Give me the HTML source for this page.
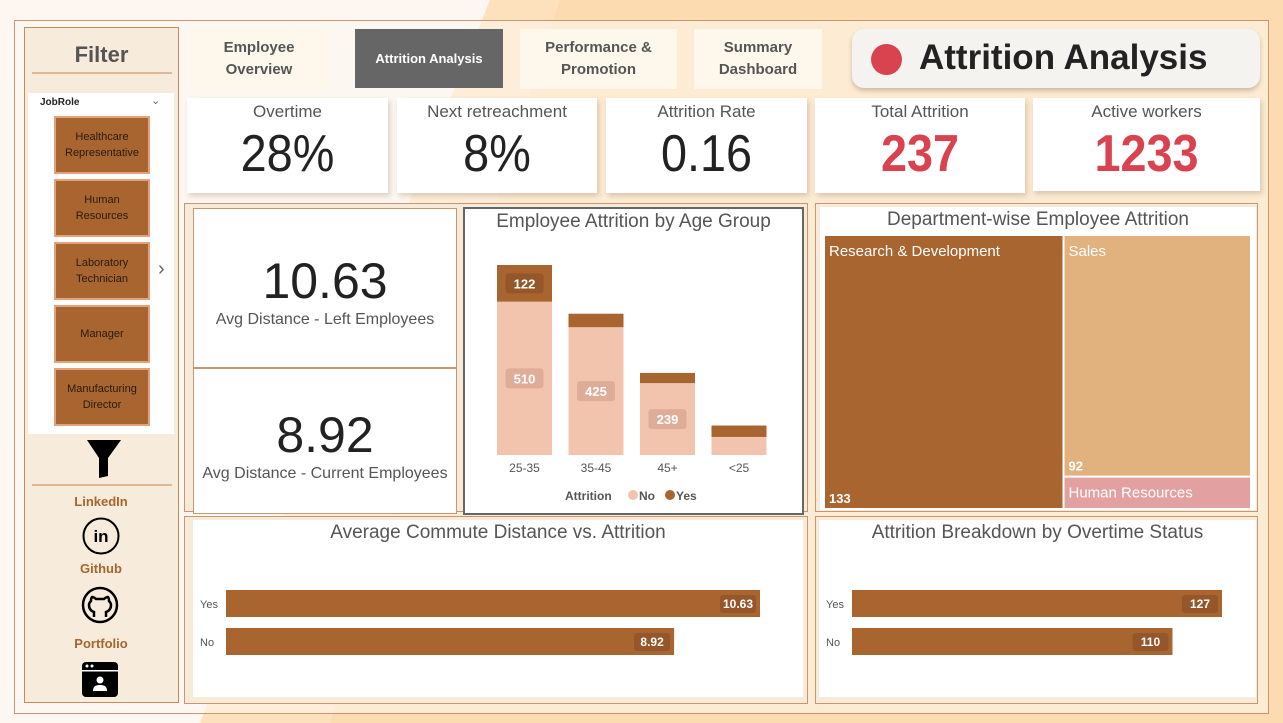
<!DOCTYPE html>
<html><head><meta charset="utf-8">
<style>
*{box-sizing:border-box;margin:0;padding:0}
body{width:1283px;height:723px;overflow:hidden;position:relative;font-family:"Liberation Sans","DejaVu Sans",sans-serif;background:#fdf6f1}
.abs{position:absolute}
.card{position:absolute;background:#fff;box-shadow:2px 3px 5px rgba(120,90,60,.25);text-align:center}
.kt{font-size:17px;color:#555;margin-top:4px}
.kv{font-size:52px;color:#222;line-height:60px;margin-top:2px;transform:scaleX(.9)}
.red{color:#d9434f;font-weight:bold}
.nav{position:absolute;background:#fef7ec;color:#555;font-weight:bold;font-size:15px;text-align:center;display:flex;align-items:center;justify-content:center;line-height:22px}
.jb{position:absolute;left:54px;width:96px;height:58px;background:#a8652f;border:2px solid #e3a27c;color:#2a1a10;font-size:11px;display:flex;align-items:center;justify-content:center;text-align:center;line-height:16px}
.ttl{position:absolute;width:100%;text-align:center;font-size:19px;color:#555}
.lk{position:absolute;width:154px;left:24px;text-align:center;font-weight:bold;font-size:13px;color:#a8652f}
</style></head><body>
<svg class="abs" style="left:0;top:0" width="1283" height="723">
<polygon points="490,0 1283,0 1283,723 200,723" fill="#fde0bc"/>
<polygon points="560,0 1283,0 1283,723 330,723" fill="#fdd7a8" opacity=".6"/>
</svg>
<div class="abs" style="left:14px;top:20px;width:1255px;height:694px;border:1px solid #c89670;background:rgba(254,248,240,.55)"></div>

<!-- filter panel -->
<div class="abs" style="left:24px;top:27px;width:155px;height:676px;background:#f7ecdc;border:1px solid #c88a5a"></div>
<div class="abs" style="left:24px;top:42px;width:155px;text-align:center;font-size:22px;font-weight:bold;color:#555">Filter</div>
<div class="abs" style="left:32px;top:72px;width:140px;height:2px;background:#e0b896"></div>
<div class="abs" style="left:28px;top:93px;width:146px;height:341px;background:#fff"></div>
<div class="abs" style="left:40px;top:97px;font-size:10px;font-weight:bold;color:#222">JobRole</div>
<div class="abs" style="left:151px;top:94px;font-size:11px;color:#666">&#8964;</div>
<div class="jb" style="top:116px">Healthcare<br>Representative</div>
<div class="jb" style="top:179px">Human<br>Resources</div>
<div class="jb" style="top:242px">Laboratory<br>Technician</div>
<div class="jb" style="top:305px">Manager</div>
<div class="jb" style="top:368px">Manufacturing<br>Director</div>
<div class="abs" style="left:158px;top:258px;font-size:20px;color:#666">&#8250;</div>
<svg class="abs" style="left:86px;top:438px" width="36" height="42"><polygon points="1,2 35,2 22,20 22,38 13,40 13,20" fill="#000"/></svg>
<div class="abs" style="left:32px;top:484px;width:140px;height:2px;background:#e0b896"></div>
<div class="lk" style="top:494px">LinkedIn</div>
<svg class="abs" style="left:82px;top:517px" width="38" height="38"><circle cx="19" cy="19" r="17.5" fill="none" stroke="#000" stroke-width="2"/><text x="19" y="25" text-anchor="middle" font-size="17" font-weight="bold" font-family="Liberation Sans">in</text></svg>
<div class="lk" style="top:561px">Github</div>
<svg class="abs" style="left:81px;top:586px" width="38" height="38"><circle cx="19" cy="19" r="17" fill="none" stroke="#000" stroke-width="2.5"/><path d="M13 31v-5c-3-1-5-3-5-7 0-2 1-3 2-4 0-1 0-3 1-4 2 0 3 1 4 2h8c1-1 2-2 4-2 1 1 1 3 1 4 1 1 2 2 2 4 0 4-2 6-5 7v5" fill="none" stroke="#000" stroke-width="2.5"/></svg>
<div class="lk" style="top:636px">Portfolio</div>
<svg class="abs" style="left:82px;top:662px" width="36" height="36"><rect x="0" y="0" width="36" height="35" rx="4" fill="#000"/><rect x="0" y="8" width="36" height="1.5" fill="#fff"/><circle cx="5" cy="4" r="1.5" fill="#fff"/><circle cx="10" cy="4" r="1.5" fill="#fff"/><circle cx="18" cy="18" r="3.5" fill="#fff"/><path d="M11 29c0-5 3-6 7-6s7 1 7 6z" fill="#fff"/></svg>

<!-- nav -->
<div class="nav" style="left:190px;top:29px;width:138px;height:60px">Employee<br>Overview</div>
<div class="nav" style="left:355px;top:29px;width:148px;height:59px;background:#676666;color:#fff;font-size:13px">Attrition Analysis</div>
<div class="nav" style="left:520px;top:29px;width:157px;height:60px">Performance &amp;<br>Promotion</div>
<div class="nav" style="left:694px;top:29px;width:128px;height:60px">Summary<br>Dashboard</div>
<div class="abs" style="left:852px;top:29px;width:408px;height:59px;background:#f5f3ef;border-radius:12px;box-shadow:0 3px 5px rgba(100,80,60,.3)">
<div class="abs" style="left:19px;top:15px;width:31px;height:31px;border-radius:50%;background:#d9434f"></div>
<div class="abs" style="left:67px;top:9px;font-size:35px;font-weight:bold;color:#222">Attrition Analysis</div></div>

<!-- KPIs -->
<div class="card" style="left:187px;top:98px;width:201px;height:95px"><div class="kt">Overtime</div><div class="kv">28%</div></div>
<div class="card" style="left:397px;top:98px;width:200px;height:95px"><div class="kt">Next retreachment</div><div class="kv">8%</div></div>
<div class="card" style="left:606px;top:98px;width:201px;height:95px"><div class="kt">Attrition Rate</div><div class="kv">0.16</div></div>
<div class="card" style="left:815px;top:98px;width:210px;height:95px"><div class="kt">Total Attrition</div><div class="kv red">237</div></div>
<div class="card" style="left:1033px;top:98px;width:227px;height:93px"><div class="kt">Active workers</div><div class="kv red">1233</div></div>

<!-- middle panels -->
<div class="abs" style="left:184px;top:203px;width:624px;height:309px;background:#f7ead8;border:1px solid #c89670"></div>
<div class="abs" style="left:193px;top:208px;width:264px;height:160px;background:#fff;border:1px solid #c89670;text-align:center"><div style="font-size:50px;color:#222;margin-top:44px;line-height:56px">10.63</div><div style="font-size:16px;color:#555;margin-top:2px">Avg Distance - Left Employees</div></div>
<div class="abs" style="left:193px;top:368px;width:264px;height:146px;background:#fff;border:1px solid #c89670;text-align:center"><div style="font-size:50px;color:#222;margin-top:38px;line-height:56px">8.92</div><div style="font-size:16px;color:#555;margin-top:2px">Avg Distance - Current Employees</div></div>
<div class="abs" style="left:463px;top:207px;width:341px;height:308px;background:#fff;border:2px solid #666">
<div class="ttl" style="top:2px">Employee Attrition by Age Group</div></div>
<svg id="ageSvg" class="abs" style="left:0;top:0" width="1283" height="723"></svg>

<div class="abs" style="left:815px;top:203px;width:443px;height:309px;background:#f7ead8;border:1px solid #c89670"></div>
<div class="abs" style="left:820px;top:207px;width:436px;height:303px;background:#fff"><div class="ttl" style="top:2px">Department-wise Employee Attrition</div></div>
<svg id="tmSvg" class="abs" style="left:0;top:0" width="1283" height="723"></svg>

<!-- bottom -->
<div class="abs" style="left:184px;top:516px;width:624px;height:188px;background:#f7ead8;border:1px solid #c89670"></div>
<div class="abs" style="left:193px;top:520px;width:610px;height:177px;background:#fff"><div class="ttl" style="top:2px">Average Commute Distance vs. Attrition</div></div>
<div class="abs" style="left:815px;top:516px;width:443px;height:188px;background:#f7ead8;border:1px solid #c89670"></div>
<div class="abs" style="left:819px;top:520px;width:437px;height:177px;background:#fff"><div class="ttl" style="top:2px">Attrition Breakdown by Overtime Status</div></div>
<svg id="barSvg" class="abs" style="left:0;top:0" width="1283" height="723"></svg>

<script>
const ageCats=["25-35","35-45","45+","<25"];
const ageNo=[510,425,239,60];
const ageYes=[122,45,34,38];
const ageNoLabels=["510","425","239",""];
const ageYesLabels=["122","","",""];
const deptNames=["Research & Development","Sales","Human Resources"];
const deptValues=[133,92,12];
const deptLabels=["133","92",""];
const commuteCats=["Yes","No"];
const commuteVals=[10.63,8.92];
const overtimeCats=["Yes","No"];
const overtimeVals=[127,110];

const NS="http://www.w3.org/2000/svg";
function mk(svg,tag,attrs,text){const e=document.createElementNS(NS,tag);for(const k in attrs)e.setAttribute(k,attrs[k]);if(text!==undefined)e.textContent=text;svg.appendChild(e);return e;}
const FF="Liberation Sans, DejaVu Sans, sans-serif";

// age chart
const ag=document.getElementById('ageSvg');
const base=455, sc=190/632, x0=497, step=71.5, bw=55;
const yA=v=>base-v*sc, xA=i=>x0+i*step;
ageCats.forEach((c,i)=>{
 const no=ageNo[i],ye=ageYes[i];
 let r=mk(ag,'rect',{x:xA(i),y:yA(no),width:bw,height:no*sc,fill:'#f3c4ad'});
 
 
 r=mk(ag,'rect',{x:xA(i),y:yA(no+ye),width:bw,height:ye*sc,fill:'#a8652f'});
 
 
 let t=mk(ag,'text',{x:xA(i)+bw/2,y:472,'text-anchor':'middle','font-size':12,fill:'#555','font-family':FF},c);
 
 
 if(ageNoLabels[i]){const cy=yA(no/2);
  mk(ag,'rect',{x:xA(i)+bw/2-19,y:cy-10,width:38,height:20,rx:3,fill:'#dfac98'});
  t=mk(ag,'text',{x:xA(i)+bw/2,y:cy+5,'text-anchor':'middle','font-size':13,'font-weight':'bold',fill:'#fff','font-family':FF},ageNoLabels[i]);
  
  }
 if(ageYesLabels[i]){const cy=yA(no+ye/2);
  mk(ag,'rect',{x:xA(i)+bw/2-19,y:cy-10,width:38,height:20,rx:3,fill:'#955629'});
  t=mk(ag,'text',{x:xA(i)+bw/2,y:cy+5,'text-anchor':'middle','font-size':13,'font-weight':'bold',fill:'#fff','font-family':FF},ageYesLabels[i]);
  
  }
});
let lg=mk(ag,'text',{x:565,y:500,'font-size':12,'font-weight':'bold',fill:'#555','font-family':FF},'Attrition');


mk(ag,'circle',{cx:633,cy:495,r:5,fill:'#f3c4ad'});
lg=mk(ag,'text',{x:639,y:500,'font-size':12,'font-weight':'bold',fill:'#555','font-family':FF},'No');


mk(ag,'circle',{cx:670,cy:495,r:5,fill:'#a8652f'});
lg=mk(ag,'text',{x:676,y:500,'font-size':12,'font-weight':'bold',fill:'#555','font-family':FF},'Yes');



// treemap
const tm=document.getElementById('tmSvg');
const TX=825,TY=236,TW=425,TH=272;
const tot=deptValues.reduce((a,b)=>a+b,0);
const w0=TW*deptValues[0]/tot;
const restTot=deptValues[1]+deptValues[2];
const h1=TH*deptValues[1]/restTot;
const cols=['#a8652f','#e2b27e','#e3a0a0'];
const rects=[[TX,TY,w0-1,TH],[TX+w0+1,TY,TW-w0-1,h1-1],[TX+w0+1,TY+h1+1,TW-w0-1,TH-h1-1]];
deptNames.forEach((n,i)=>{const [x,y,w,h]=rects[i];
 let r=mk(tm,'rect',{x:x,y:y,width:w,height:h,fill:cols[i]});
 
 
 let t=mk(tm,'text',{x:x+4,y:y+20,'font-size':15,fill:'#fff','font-family':FF},n);
 
 
 if(deptLabels[i]){t=mk(tm,'text',{x:x+4,y:y+h-5,'font-size':13,'font-weight':'bold',fill:'#fff','font-family':FF},deptLabels[i]);
 
 }
});

// horizontal bars
const bs=document.getElementById('barSvg');
function hbar(cats,vals,x0,pxPer,ys,labx,fmt,pref){
 cats.forEach((c,i)=>{const w=vals[i]*pxPer,y=ys[i];
  let r=mk(bs,'rect',{x:x0,y:y,width:w,height:27,fill:'#a8652f'});
  
  
  let t=mk(bs,'text',{x:labx,y:y+18,'font-size':11,fill:'#555','font-family':FF},c);
  
  
  mk(bs,'rect',{x:x0+w-40,y:y+5,width:36,height:18,rx:3,fill:'#955629'});
  t=mk(bs,'text',{x:x0+w-22,y:y+18,'text-anchor':'middle','font-size':12,'font-weight':'bold',fill:'#fff','font-family':FF},fmt(vals[i]));
  
  
 });
}
hbar(commuteCats,commuteVals,226,534/10.63,[590,628],200,v=>v.toFixed(2),'commute');
hbar(overtimeCats,overtimeVals,852,370/127,[590,628],826,v=>String(v),'overtime');
</script>
</body></html>
